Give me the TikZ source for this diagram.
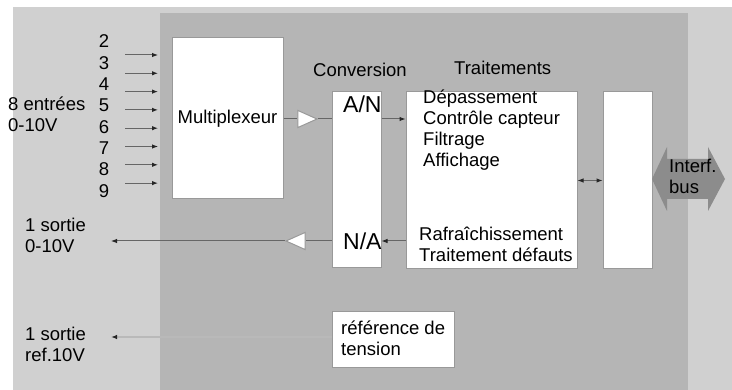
\documentclass[tikz,border=0pt]{standalone}
\usepackage{fontspec}
\setmainfont{Liberation Sans}
\usetikzlibrary{arrows.meta, positioning, calc, shapes.geometric}

\definecolor{fondclair}{gray}{0.815}
\definecolor{fondfonce}{gray}{0.71}
\definecolor{bord}{gray}{0.6}
\definecolor{fil}{gray}{0.4}
\definecolor{busgris}{gray}{0.55}

\begin{document}
\begin{tikzpicture}[
    x=1pt, y=-1pt,
    every node/.style={font=\fontsize{18.5}{21}\selectfont, inner sep=0pt},
    bloc/.style={draw=bord, fill=white, line width=1pt},
    ampli/.style={isosceles triangle, isosceles triangle stretches,
      minimum width=17, minimum height=19, draw=bord, fill=white, line width=1pt},
    lien/.style={draw=fil, line width=1pt},
    >={Latex[length=6pt, width=4.5pt, color=black!85]}
  ]
  % fonds
  \useasboundingbox (0,0) rectangle (732,390);
  \fill[fondclair] (13,7) rectangle (732,390);
  \fill[fondfonce] (160,13) rectangle (688,390);

  % blocs
  \node[bloc, minimum width=111, minimum height=161] (mux) at (227.5,118.5) {Multiplexeur};
  \node[bloc, minimum width=49, minimum height=176] (conv) at (356.5,180) {};
  \node[bloc, minimum width=171, minimum height=177] (trait) at (491.5,180.5) {};
  \node[bloc, minimum width=49, minimum height=177] (io) at (627.5,180.5) {};
  \node[bloc, minimum width=122, minimum height=56] (ref) at (393,340) {};
  \node[ampli] (bufA) at (303.5,119) {};
  \node[ampli, shape border rotate=180] (bufB) at (299.5,241) {};

  % fleche double du bus
  \coordinate (bus) at (688.5,179);
  \fill[busgris, shift={(bus)}] (-36.5,0) -- (-21.5,-32) -- (-21.5,-20) -- (19.5,-20)
    -- (19.5,-32) -- (36.5,0) -- (19.5,32) -- (19.5,20) -- (-21.5,20) -- (-21.5,32) -- cycle;

  % textes
  \node[anchor=base west] (lconv) at (313,77) {Conversion};
  \node[anchor=base west] (ltrait) at (454,75) {Traitements};
  \node[anchor=base west, font=\fontsize{23}{25}\selectfont] (an) at (343,113) {A/N};
  \node[anchor=base west, font=\fontsize{23}{25}\selectfont] (na) at (343,250) {N/A};
  \node[anchor=base west, align=left] (taches) at (423,167)
    {Dépassement\\Contrôle capteur\\Filtrage\\Affichage};
  \node[anchor=base west, align=left] (rafr) at (419,262)
    {Rafraîchissement\\Traitement défauts};
  \node[anchor=base west, align=left] (lbus) at (669,194) {Interf.\\bus};
  \node[anchor=base west, align=left] (lref) at (341,356) {référence de\\tension};
  \node[anchor=base west, align=left] (entrees) at (8,132) {8 entrées\\0-10V};
  \node[anchor=base west, align=left] (sortieA) at (25,253) {1 sortie\\0-10V};
  \node[anchor=base west, align=left] (sortieB) at (25,362) {1 sortie\\ref.10V};
  \foreach \n [count=\k from 0] in {2,...,9}
    \node[anchor=base] (num\n) at (104,{48+21.3*\k}) {\n};

  % entrees
  \foreach \k in {0,...,7}{
    \coordinate (dep\k) at (125,{55+18.3*\k});
    \coordinate (arr\k) at (158,{55+18.3*\k});
    \draw[lien, ->] (dep\k) -- (arr\k);
  }

  % liaisons
  \coordinate (outA) at (111,241);
  \coordinate (outB) at (111,337);
  \draw[lien] (mux.east |- bufA) -- (bufA);
  \draw[lien] (bufA) -- (conv.west |- bufA);
  \draw[lien, ->] (conv.east |- bufA) -- (trait.west |- bufA);
  \draw[lien, ->] (trait.west |- bufB) -- (conv.east |- bufB);
  \draw[lien] (conv.west |- bufB) -- (bufB);
  \draw[lien, ->] (bufB) -- (outA);
  \draw[lien, <->] (trait.east) -- (io.west);
  \draw[draw=gray!55, line width=1.8pt, ->] (ref.west |- outB) -- (outB);
\end{tikzpicture}
\end{document}
